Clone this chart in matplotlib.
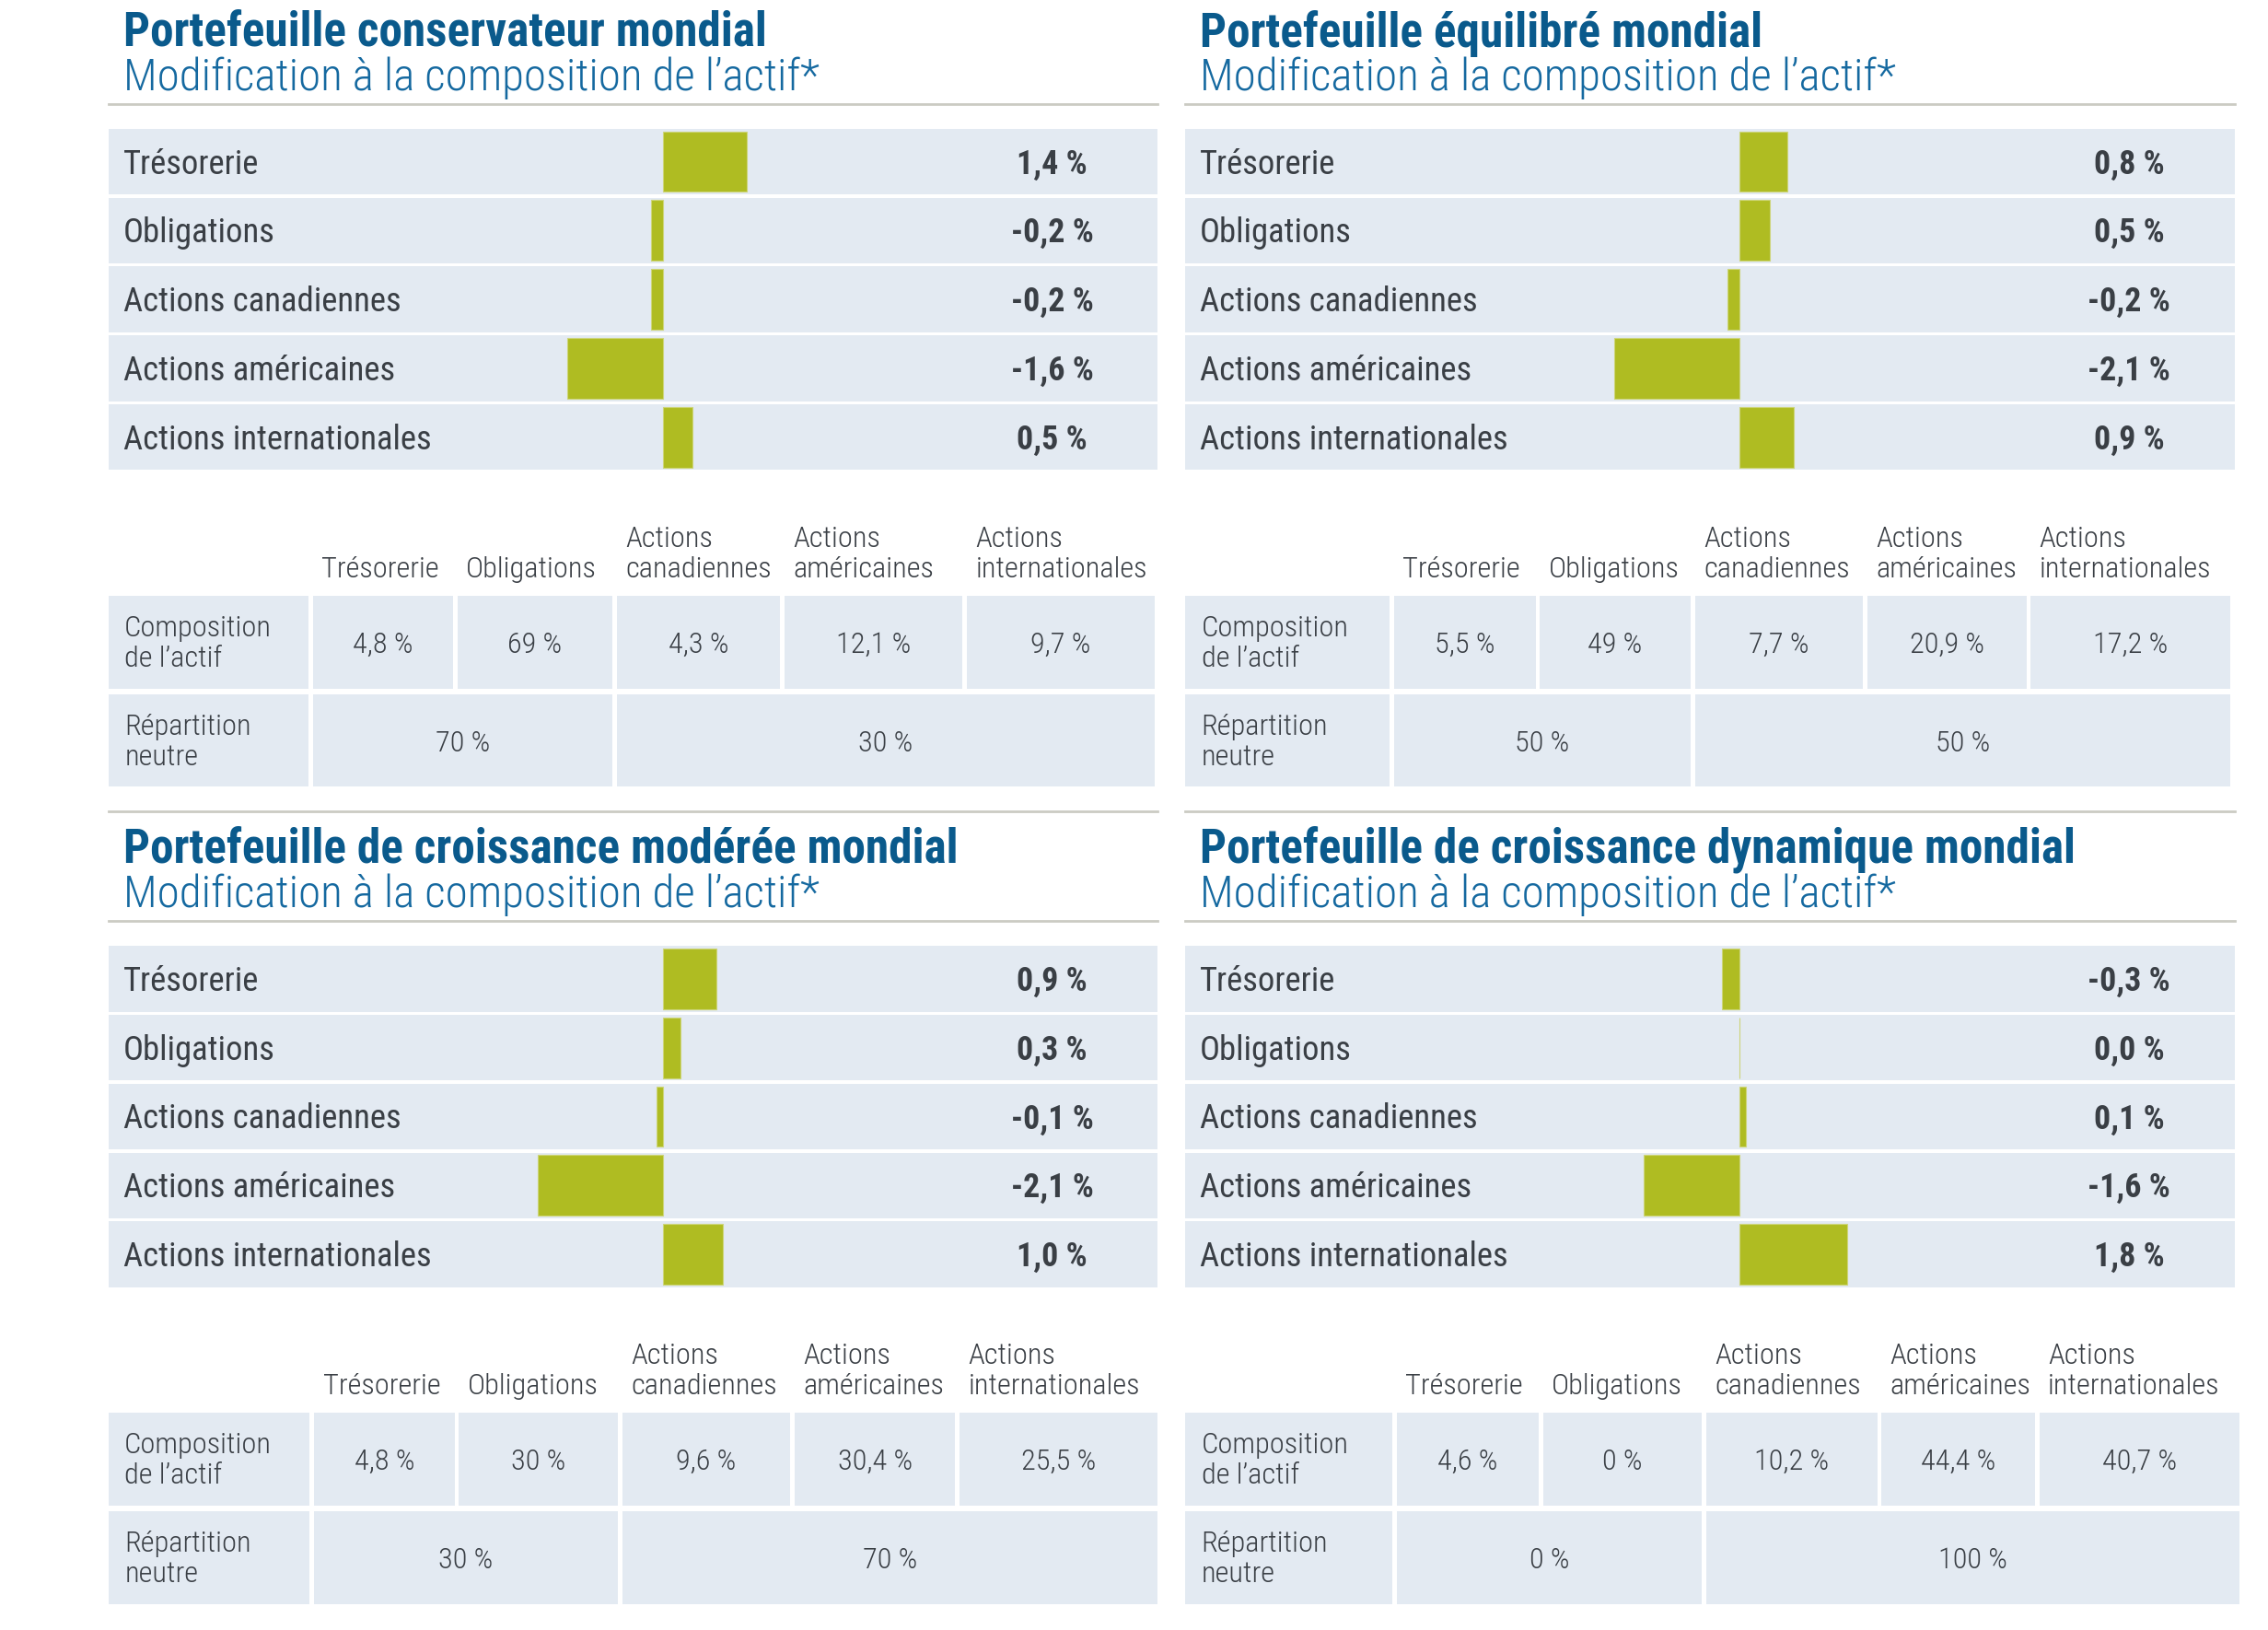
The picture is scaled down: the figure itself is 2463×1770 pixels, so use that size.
import numpy as np
import matplotlib
matplotlib.use('Agg')
import matplotlib.pyplot as plt
from matplotlib import font_manager as fm
from matplotlib.lines import Line2D
from matplotlib.transforms import blended_transform_factory

# ---- donnees ----
titres = ['Portefeuille conservateur mondial',
          'Portefeuille équilibré mondial',
          'Portefeuille de croissance modérée mondial',
          'Portefeuille de croissance dynamique mondial']
sous_titre = 'Modification à la composition de l’actif*'

categories = ['Trésorerie', 'Obligations', 'Actions canadiennes',
              'Actions américaines', 'Actions internationales']
entetes = ['Trésorerie', 'Obligations', 'Actions\ncanadiennes',
           'Actions\naméricaines', 'Actions\ninternationales']
lignes_tableau = ['Composition\nde l’actif', 'Répartition\nneutre']

modif_cons = [1.4, -0.2, -0.2, -1.6, 0.5]
modif_equi = [0.8, 0.5, -0.2, -2.1, 0.9]
modif_mod = [0.9, 0.3, -0.1, -2.1, 1.0]
modif_dyn = [-0.3, 0.0, 0.1, -1.6, 1.8]

compo_cons = [4.8, 69, 4.3, 12.1, 9.7]
compo_equi = [5.5, 49, 7.7, 20.9, 17.2]
compo_mod = [4.8, 30, 9.6, 30.4, 25.5]
compo_dyn = [4.6, 0, 10.2, 44.4, 40.7]

neutre_cons = [70, 30]
neutre_equi = [50, 50]
neutre_mod = [30, 70]
neutre_dyn = [0, 100]

# ---- mise en page (unites de reference) ----
W, H = 1567, 1127
S = 2463 / W
positions = [(75, 0), (819, 0), (75, 565), (819, 565)]
bords_colonnes = [[0, 141, 241, 351, 467, 593, 726],
                  [0, 144, 245, 352, 471, 584, 725],
                  [0, 142, 242, 355, 474, 588, 728],
                  [0, 146, 247, 360, 481, 590, 731]]
PX_PCT = 41.3
ZERO = 383
LARG = 725

BLEU = '#0a5a8c'
BLEU2 = '#1569a0'
FOND = '#e3eaf2'
VERT = '#afbc22'
TEXTE = '#3a3f45'
GRIS = '#cbcbc3'

# ---- police etroite ----
noms = {f.name for f in fm.fontManager.ttflist}
etroites = {f.name for f in fm.fontManager.ttflist if 'condensed' in str(f.stretch)}
FAM, STRETCH = 'DejaVu Sans', 'normal'
for n in ['Roboto Condensed', 'Open Sans Condensed', 'Noto Sans Condensed',
          'Liberation Sans Narrow', 'DejaVu Sans Condensed']:
    if n in noms:
        FAM, STRETCH = n, 'condensed'
        break
else:
    for n in ['Noto Sans', 'DejaVu Sans', 'Open Sans', 'Roboto']:
        if n in etroites:
            FAM, STRETCH = n, 'condensed'
            break
    else:
        for n in ['Roboto', 'Liberation Sans']:
            if n in noms:
                FAM = n
                break

fig = plt.figure(figsize=(24.63, 17.70), dpi=100)
fig.patch.set_facecolor('white')
rend = fig.canvas.get_renderer()


def taille(txt, cible, **kw):
    t = fig.text(0, 0, txt, fontsize=20, family=FAM, stretch=STRETCH, **kw)
    w = t.get_window_extent(rend).width
    t.remove()
    return 20 * cible * S / w


T_TITRE = taille(titres[0], 443, weight='bold')
T_SOUS = taille(sous_titre, 480, weight='light')
T_CAT = taille(categories[4], 208) * 1.02
T_VAL = taille('-0,2 %', 57, weight='bold')
T_TAB = taille('internationales', 115, weight='light') * 1.03


def rect(x, y, w, h):
    return [x / W, 1 - (y + h) / H, w / W, h / H]


def pct1(v):
    return f'{v:.1f}'.replace('.', ',') + ' %'


def pctg(v):
    return f'{v:g}'.replace('.', ',') + ' %'


modifs = [modif_cons, modif_equi, modif_mod, modif_dyn]
compos = [compo_cons, compo_equi, compo_mod, compo_dyn]
neutres = [neutre_cons, neutre_equi, neutre_mod, neutre_dyn]
police = dict(family=FAM, stretch=STRETCH)

for k, (px, py) in enumerate(positions):
    # titres
    fig.text((px + 10) / W, 1 - (py + 23) / H, titres[k], fontsize=T_TITRE,
             weight='bold', color=BLEU, va='center', **police)
    fig.text((px + 10) / W, 1 - (py + 54) / H, sous_titre, fontsize=T_SOUS,
             weight='light', color=BLEU2, va='center', **police)
    fig.add_artist(Line2D([px / W, (px + LARG) / W], [1 - (py + 72) / H] * 2,
                          color=GRIS, lw=2, transform=fig.transFigure))
    if py > 0:
        fig.add_artist(Line2D([px / W, (px + LARG) / W], [1 - (py - 4) / H] * 2,
                              color=GRIS, lw=2, transform=fig.transFigure))

    # barres
    ax = fig.add_axes(rect(px, py + 88, LARG, 238))
    xmin, xmax = -ZERO / PX_PCT, (LARG - ZERO) / PX_PCT
    ax.set_xlim(xmin, xmax)
    ax.set_ylim(4.5, -0.5)
    ax.axis('off')
    y = np.arange(len(categories))
    ax.barh(y, xmax - xmin, left=xmin, height=0.955, color=FOND)
    ax.barh(y, modifs[k], height=0.88, color=VERT, edgecolor='#cdd57a', lw=0.8)
    tr = blended_transform_factory(ax.transAxes, ax.transData)
    for i, cat in enumerate(categories):
        ax.text(10 / LARG, i + 0.04, cat, transform=tr, va='center', ha='left',
                fontsize=T_CAT, color=TEXTE, **police)
        ax.text(652 / LARG, i + 0.04, pct1(modifs[k][i]), transform=tr, va='center',
                ha='center', fontsize=T_VAL, weight='bold', color=TEXTE, **police)

    # tableau
    tax = fig.add_axes(rect(px, py + 340, 735, 206))
    tax.set_xlim(0, 735)
    tax.set_ylim(546, 340)
    tax.axis('off')
    b = np.array(bords_colonnes[k])
    gauches = b[:-1]
    largeurs = np.diff(b) - 3
    tax.barh(444, largeurs, left=gauches, height=64, color=FOND)
    g2 = np.array([b[0], b[1], b[3]])
    l2 = np.array([b[1] - b[0], b[3] - b[1], b[6] - b[3]]) - 3
    tax.barh(512, l2, left=g2, height=64, color=FOND)
    for j, e in enumerate(entetes):
        tax.text(b[j + 1] + 6, 403, e, va='bottom', ha='left', fontsize=T_TAB,
                 weight='light', color=TEXTE, linespacing=1.18, **police)
    for r, lab in zip([445, 513], lignes_tableau):
        tax.text(11, r, lab, va='center', ha='left', fontsize=T_TAB,
                 weight='light', color=TEXTE, linespacing=1.18, **police)
    for j, v in enumerate(compos[k]):
        tax.text(gauches[j + 1] + largeurs[j + 1] / 2, 446, pctg(v), va='center',
                 ha='center', fontsize=T_TAB, weight='light', color=TEXTE, **police)
    for j, v in enumerate(neutres[k]):
        tax.text(g2[j + 1] + l2[j + 1] / 2, 514, pctg(v), va='center',
                 ha='center', fontsize=T_TAB, weight='light', color=TEXTE, **police)

fig.savefig('out.png', dpi=100, facecolor='white')
